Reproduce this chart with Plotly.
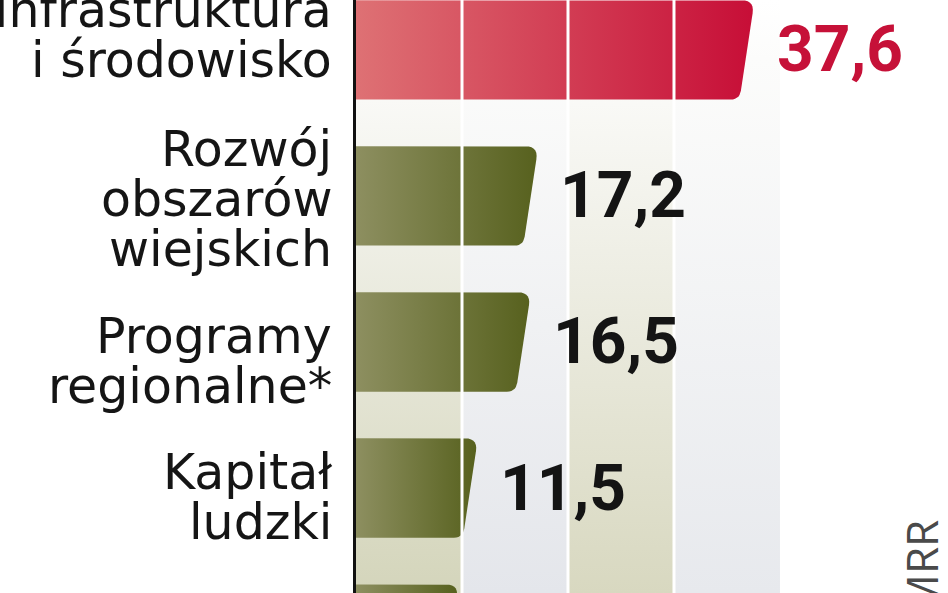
import numpy as np
import plotly.graph_objects as go

# %% data (mld euro, programy operacyjne)
categories = ["Infrastruktura<br>i środowisko",
              "Rozwój<br>obszarów<br>wiejskich",
              "Programy<br>regionalne*",
              "Kapitał<br>ludzki",
              "Innowacyjna<br>gospodarka"]
values = [37.6, 17.2, 16.5, 11.5, 9.7]
value_text = ["37,6", "17,2", "16,5", "11,5", "9,7"]
source = "MRR"

# %% layout constants
W, H = 948, 593
left = 356                      # axis line position in px
xmax = 55.85                    # data units across plot area
ylo, yhi = -0.342, 3.719        # reversed category axis
bar_h = 0.68
px_x = (W - left) / xmax
px_y = H / (yhi - ylo)

red_scale = [[0, "#de7174"], [1, "#c70e37"]]
green_scale = [[0, "#8d8f60"], [1, "#57611e"]]
stripe_cols = ["#d4d5bb", "#e4e6eb", "#d8d8c0", "#e7e9ed"]
label_dy = [-14, 4, 20, 9, 0]   # small vertical tweaks of the left labels


def bezier(p0, c, p2, n=8):
    t = np.linspace(0, 1, n)
    x = (1 - t)**2 * p0[0] + 2 * (1 - t) * t * c[0] + t**2 * p2[0]
    y = (1 - t)**2 * p0[1] + 2 * (1 - t) * t * c[1] + t**2 * p2[1]
    return list(x), list(y)


def bar_outline(v, yc):
    # bar with rounded top-right corner and slanted end
    slant = 15 / px_x
    top, bot = yc - bar_h / 2, yc + bar_h / 2
    ex, ey = -slant * px_x, bar_h * px_y
    L = np.hypot(ex, ey)
    r1, r2 = 13, 9
    c1 = (v, top)
    c2 = (v - slant, bot)
    xs, ys = [0], [top]
    bx, by = bezier((v - r1 / px_x, top), c1,
                    (v + ex * r1 / L / px_x, top + ey * r1 / L / px_y))
    xs += bx; ys += by
    bx, by = bezier((c2[0] - ex * r2 / L / px_x, bot - ey * r2 / L / px_y), c2,
                    (c2[0] - r2 / px_x, bot))
    xs += bx; ys += by
    xs += [0, 0]; ys += [bot, top]
    return xs, ys


fig = go.Figure()

# background stripes fading to white at the top
for i, col in enumerate(stripe_cols):
    x0, x1 = i * 10, (i + 1) * 10
    fig.add_trace(go.Scatter(
        x=[x0, x1, x1, x0, x0], y=[ylo, ylo, yhi, yhi, ylo],
        mode="lines", line=dict(width=0), fill="toself",
        fillgradient=dict(type="vertical",
                          colorscale=[[0, col], [0.9, "#fcfcfb"], [1, "#ffffff"]]),
        hoverinfo="skip", showlegend=False))

# bars
for i, v in enumerate(values):
    xs, ys = bar_outline(v, i)
    fig.add_trace(go.Scatter(
        x=xs, y=ys, mode="lines", line=dict(width=0), fill="toself",
        fillgradient=dict(type="horizontal",
                          colorscale=red_scale if i == 0 else green_scale),
        name=categories[i].replace("<br>", " "), showlegend=False,
        hoverinfo="name"))

# white grid lines over the bars
for gx in [10, 20, 30]:
    fig.add_shape(type="line", xref="x", yref="paper", x0=gx, x1=gx, y0=0, y1=1,
                  line=dict(color="white", width=3), layer="above")

# category labels, one annotation per line
for i, cat in enumerate(categories):
    lines = cat.split("<br>")
    n = len(lines)
    for k, ln in enumerate(lines):
        off = (k - (n - 1) / 2) * 50 + label_dy[i]
        fig.add_annotation(x=0, y=i, xref="x", yref="y", text=ln,
                           showarrow=False, xanchor="right", yanchor="middle",
                           xshift=-22, yshift=-off,
                           font=dict(family="DejaVu Sans", size=49, color="#151515"))

# values
for i, v in enumerate(values):
    fig.add_annotation(x=v, y=i, xref="x", yref="y", text=value_text[i],
                       showarrow=False, xanchor="left", yanchor="middle",
                       xshift=20, yshift=0,
                       font=dict(family="Roboto, sans-serif",
                                 size=64, weight="bold",
                                 color="#c61138" if i == 0 else "#141414"))

# source
fig.add_annotation(x=0.955, y=0.045, xref="paper", yref="paper", text=source,
                   showarrow=False, textangle=-90, xanchor="center", yanchor="middle",
                   font=dict(family="Open Sans", size=44, color="#4a4a4a"))

fig.update_layout(
    width=W, height=H,
    margin=dict(l=left, r=0, t=0, b=0),
    paper_bgcolor="white", plot_bgcolor="white",
    xaxis=dict(range=[0, xmax], visible=False, fixedrange=True),
    yaxis=dict(range=[yhi, ylo], showticklabels=False, showgrid=False,
               zeroline=False, showline=True, linecolor="#111111", linewidth=3,
               ticks="", fixedrange=True),
    showlegend=False,
)

# page body has a default 8px margin; drop it so the figure fills the window
fig.write_html("out.html", config={"displayModeBar": False},
               post_script="document.body.style.margin='0';document.body.style.overflow='hidden';")
